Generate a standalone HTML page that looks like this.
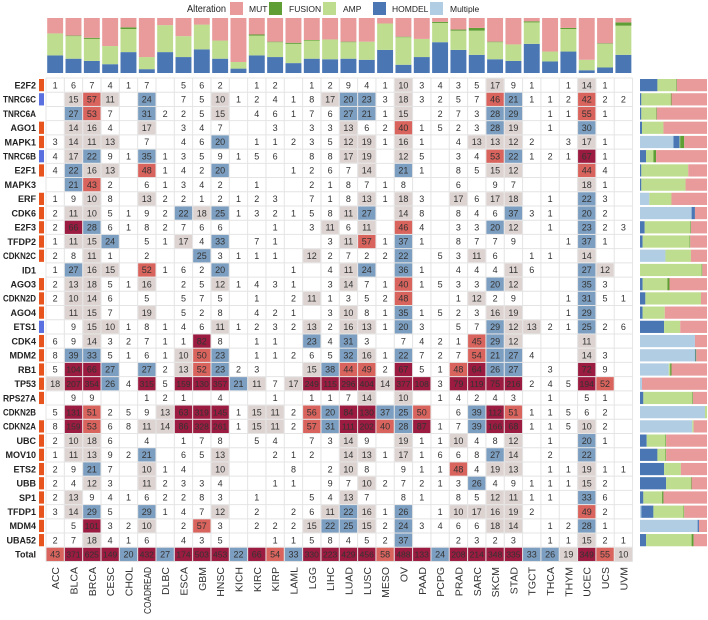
<!DOCTYPE html>
<html><head><meta charset="utf-8">
<style>
html,body{margin:0;padding:0;background:#fff;}
svg{display:block;font-family:"Liberation Sans",Arial,sans-serif;}
</style></head>
<body>
<svg id="chart" width="708" height="620" viewBox="0 0 708 620" xmlns="http://www.w3.org/2000/svg">
<g id="legend">
  <text x="187" y="12" font-size="10.5" fill="#222" textLength="39" lengthAdjust="spacingAndGlyphs">Alteration</text>
  <rect x="230" y="2" width="13" height="13" fill="#e99a9b"/>
  <text x="249" y="12" font-size="8.5" fill="#222">MUT</text>
  <rect x="269" y="2" width="13" height="13" fill="#5f9e35"/>
  <text x="289" y="12" font-size="8.5" fill="#222">FUSION</text>
  <rect x="323" y="2" width="13" height="13" fill="#bedd8e"/>
  <text x="343" y="12" font-size="8.5" fill="#222">AMP</text>
  <rect x="373" y="2" width="13" height="13" fill="#4a77b4"/>
  <text x="392" y="12" font-size="8.5" fill="#222">HOMDEL</text>
  <rect x="430" y="2" width="13" height="13" fill="#b0cde3"/>
  <text x="450" y="12" font-size="8.5" fill="#222">Multiple</text>
</g>
<g id="top"></g>
<g id="grid"></g>
<g id="cells"></g>
<g id="rows"></g>
<g id="cols"></g>
<g id="right"></g>
</svg>
<script>
const cancers = ["ACC","BLCA","BRCA","CESC","CHOL","COADREAD","DLBC","ESCA","GBM","HNSC","KICH","KIRC","KIRP","LAML","LGG","LIHC","LUAD","LUSC","MESO","OV","PAAD","PCPG","PRAD","SARC","SKCM","STAD","TGCT","THCA","THYM","UCEC","UCS","UVM"];
const genes = ["E2F2","TNRC6C","TNRC6A","AGO1","MAPK1","TNRC6B","E2F1","MAPK3","ERF","CDK6","E2F3","TFDP2","CDKN2C","ID1","AGO3","CDKN2D","AGO4","ETS1","CDK4","MDM2","RB1","TP53","RPS27A","CDKN2B","CDKN2A","UBC","MOV10","ETS2","UBB","SP1","TFDP1","MDM4","UBA52","Total"];
const geneMarker = ["o","b","","o","o","b","o","","o","o","o","o","o","","o","o","o","b","o","o","o","o","o","","o","o","o","o","o","o","o","o","o",""];
const _=0;
const counts = [
[1,6,7,4,1,7,_,5,6,2,_,1,2,_,1, 2,9,4,1,10,3,4,3,5,17,9,1,_,1,14,1,_],
[_,15,57,11,_,24,_,7,5,10,1,2,4,1,8, 17,20,23,3,18,3,2,5,7,46,21,1,1,2,42,2,2],
[_,27,53,7,_,31,2,2,5,15,_,4,6,1,7, 6,27,21,1,15,_,2,7,3,28,29,_,1,1,55,1,_],
[_,14,16,4,_,17,_,3,4,7,_,_,3,_,3, 3,13,6,2,40,1,5,2,3,28,19,_,1,_,30,_,_],
[3,14,11,13,_,7,_,4,6,20,_,1,1,2,3, 5,12,19,1,16,1,_,4,13,13,12,2,_,3,17,1,_],
[4,17,22,9,1,35,1,3,5,9,1,5,6,_,8, 8,17,19,_,12,5,_,3,4,53,22,1,2,1,67,1,_],
[4,22,16,13,_,48,1,4,2,20,_,_,_,1,2, 6,7,14,_,21,1,_,8,5,15,12,_,_,_,44,4,_],
[_,21,43,2,_,6,1,3,4,2,_,1,_,_,2, 1,8,7,1,8,_,_,6,_,9,7,_,_,_,18,1,_],
[1,9,10,8,_,13,2,2,1,2,1,2,3,_,7, 1,8,13,1,18,3,_,17,6,17,18,_,1,_,22,3,_],
[2,11,10,5,1,9,2,22,18,25,1,3,2,1,5, 8,11,27,_,14,8,_,8,4,6,37,3,1,_,20,2,_],
[2,66,28,6,1,8,2,7,6,6,_,_,1,_,3, 11,6,11,_,46,4,_,3,3,20,12,_,1,_,23,2,3],
[1,11,15,24,_,5,1,17,4,33,_,7,1,_,_, 3,11,57,1,37,1,_,8,7,7,9,_,_,1,37,1,_],
[2,8,11,1,_,2,_,_,25,3,1,1,1,_,12, 2,7,2,2,22,_,5,3,11,6,_,1,1,_,14,_,_],
[1,27,16,15,_,52,1,6,2,20,_,_,_,1,_, 4,11,24,_,36,1,_,4,4,4,11,6,_,_,27,12,_],
[2,13,18,5,1,16,_,2,5,12,1,4,3,1,_, 3,14,7,1,40,1,5,3,3,20,12,_,_,_,35,3,_],
[2,10,14,6,_,5,_,5,7,5,_,1,_,2,11, 1,3,5,2,48,_,_,1,12,2,9,_,_,1,31,5,1],
[_,11,15,7,_,19,_,5,2,8,_,4,2,1,_, 3,10,8,1,35,1,5,2,3,16,19,_,_,1,29,_,_],
[_,9,15,10,1,8,1,4,6,11,1,2,3,2,13, 2,16,13,1,20,3,_,5,7,29,12,13,2,1,25,2,6],
[6,9,14,3,2,7,1,1,82,8,_,1,1,_,23, 4,31,3,_,7,4,2,1,45,29,12,_,_,_,11,_,_],
[8,39,33,5,1,6,1,10,50,23,_,1,1,2,6, 5,32,16,1,22,7,2,7,54,21,27,4,_,_,14,3,_],
[5,104,66,27,_,27,2,13,52,23,2,3,_,_,15, 38,44,49,2,67,5,1,48,64,26,27,_,3,_,72,9,_],
[18,207,354,26,4,315,5,159,130,357,21,11,7,17,249, 115,296,404,14,377,108,3,79,119,75,216,2,4,5,194,52,_],
[_,9,9,_,_,1,2,1,_,4,_,_,1,_,1, 1,7,14,_,10,_,1,4,2,4,3,_,1,_,5,1,_],
[5,131,51,2,5,9,13,63,319,145,1,15,11,2,56, 20,84,130,37,25,50,_,6,39,112,51,1,1,5,6,2,_],
[8,159,53,6,8,11,14,86,328,261,1,15,11,2,57, 31,111,202,40,28,87,1,7,39,166,68,1,1,5,10,2,_],
[2,10,18,6,_,4,_,1,7,8,_,5,4,_,7, 3,14,9,_,19,1,1,10,4,8,12,_,1,_,20,1,_],
[1,11,13,9,2,21,_,6,5,13,_,_,2,1,2, _,14,13,1,17,1,6,6,8,27,14,_,2,_,22,_,_],
[2,9,21,7,_,10,1,4,_,10,_,_,_,8,_, 2,10,8,_,9,1,1,48,4,19,13,_,1,1,19,1,1],
[2,4,12,3,_,11,2,3,3,4,_,_,1,1,_, 9,7,10,2,7,2,1,3,26,4,9,1,1,1,15,2,_],
[2,13,9,4,1,6,2,2,8,3,_,1,_,_,5, 4,13,7,_,8,1,_,8,5,12,11,1,1,_,33,6,_],
[3,14,29,5,_,29,1,4,7,12,_,2,_,2,6, 11,22,16,1,26,_,1,10,17,16,19,2,_,_,49,2,_],
[_,5,101,3,2,10,_,2,57,3,_,2,2,2,15, 22,25,15,2,24,3,4,6,6,18,14,_,1,2,28,1,_],
[2,7,18,4,1,6,_,4,3,5,_,_,1,1,5, 8,4,5,2,37,_,_,2,3,2,3,_,1,1,15,2,1],
[43,371,625,149,20,432,27,174,503,453,22,66,54,33,330, 223,429,456,58,488,133,24,208,214,348,335,33,26,19,349,55,10]
];
const topHomdel = [.32,.26,.22,.16,.38,.07,.38,.29,.43,.26,.08,.32,.29,.18,.26,.25,.26,.24,.42,.15,.29,.56,.42,.33,.25,.22,.53,.21,.39,.05,.10,.33];
const topAmp    = [.40,.41,.40,.33,.42,.22,.49,.38,.45,.33,.12,.36,.27,.35,.33,.36,.30,.33,.48,.50,.33,.35,.35,.44,.31,.30,.39,.18,.41,.19,.43,.53];
const topFusion = [0,.01,.02,0,.03,0,0,0,0,0,0,.02,.01,.02,.01,0,.01,0,0,.01,0,.02,.02,.05,.01,0,.02,0,.02,0,.01,.06];
const rMultiple = [0,0,0,0,.50,0,0,0,.14,.77,0,0,.38,0,0,0,0,0,.82,.82,.43,.03,0,.97,.78,0,0,0,0,0,.02,.86,0];
const rHomdel   = [.26,.02,.02,.03,.09,.09,.02,.02,0,.05,.07,.04,0,0,.04,.08,.04,.36,0,.01,0,0,.05,0,0,.10,.26,.36,.39,.05,.18,.02,.09];
const rAmp      = [.28,.44,.22,.32,.01,.11,.70,.66,.33,0,.68,.70,.38,.92,.37,.83,.33,.24,0,0,.02,0,.73,.03,.02,.28,.12,.25,.37,.28,.45,0,.68];
const rFusion   = [.01,.01,.01,0,.06,.04,0,0,0,0,.01,.01,0,.01,.03,0,0,0,0,.01,.02,0,.01,0,0,.01,.01,0,.01,.02,.01,0,.03];

const C_MUT="#e99a9b",C_FUS="#5f9e35",C_AMP="#bedd8e",C_HOM="#4a77b4",C_MUL="#b0cde3";
const NS="http://www.w3.org/2000/svg";
function mk(tag,attrs,parent){const e=document.createElementNS(NS,tag);for(const k in attrs)e.setAttribute(k,attrs[k]);parent.appendChild(e);return e;}
const x0=46, colW=18.33, y0=78, rowH=14.22;
function xCol(i){return x0+i*colW;}
function yRow(j){return y0+j*rowH;}
function cellColor(v){if(v>=60)return"#9b1c40";if(v>=40)return"#d9635d";if(v>=20)return"#7c9ec0";if(v>=10)return"#ddd4d2";return null;}
const nR=genes.length,nC=cancers.length;
const gGrid=document.getElementById('grid');
for(let j=0;j<=nR;j++){const l=mk('line',{x1:x0,x2:xCol(nC),y1:yRow(j),y2:yRow(j),stroke:"#e4e4e4","stroke-width":1},gGrid);

}
for(let i=0;i<=nC;i++){const l=mk('line',{x1:xCol(i),x2:xCol(i),y1:y0,y2:yRow(nR),stroke:"#e4e4e4","stroke-width":1},gGrid);

}
const gCells=document.getElementById('cells');
for(let j=0;j<nR;j++){for(let i=0;i<nC;i++){
 const v=counts[j][i]; if(!v)continue;
 const c=cellColor(v);
 if(c){const r=mk('rect',{x:xCol(i)+0.5,y:yRow(j)+0.5,width:colW-1,height:rowH-1,fill:c},gCells);
  
  }
 const t=mk('text',{x:xCol(i)+colW/2,y:yRow(j)+rowH/2+3.2,"text-anchor":"middle","font-size":v>=100?"8.5":"9",fill:"#333"},gCells);
 t.textContent=v;
 
 
}}
const gRows=document.getElementById('rows');
genes.forEach((g,j)=>{
 const t=mk('text',{x:36,y:yRow(j)+rowH/2+3.3,"text-anchor":"end","font-size":"9","font-weight":"bold",fill:"#222"},gRows);
 t.textContent=g;
 
 
 const maxW=33;
 try{ if(t.getComputedTextLength()>maxW){t.setAttribute('textLength',maxW);t.setAttribute('lengthAdjust','spacingAndGlyphs');} }catch(e){}
 if(geneMarker[j]){const r=mk('rect',{x:39,y:yRow(j)+1,width:5,height:rowH-2,fill:geneMarker[j]=="o"?"#e8541e":"#5a6fe0"},gRows);
 
 }
});
const gCols=document.getElementById('cols');
cancers.forEach((c,i)=>{
 const cx=xCol(i)+colW/2+4, cy=567;
 const t=mk('text',{x:cx,y:cy,"text-anchor":"end","font-size":"10.5",fill:"#333",transform:`rotate(-90 ${cx} ${cy})`},gCols);
 t.textContent=c;
 
 
 try{ if(t.getComputedTextLength()>47){t.setAttribute('textLength',47);t.setAttribute('lengthAdjust','spacingAndGlyphs');} }catch(e){}
});
const gTop=document.getElementById('top');
const topY0=73, topH=55;
cancers.forEach((c,i)=>{
 const bx=xCol(i)+1.2,bw=colW-2.4;
 let y=topY0;
 const parts=[[topHomdel[i],C_HOM,'top-bar-homdel'],[topAmp[i],C_AMP,'top-bar-amp'],[topFusion[i],C_FUS,'top-bar-fusion']];
 let used=0;
 parts.forEach(p=>{const h=p[0]*topH; if(h<=0)return; y-=h; used+=p[0];
  const r=mk('rect',{x:bx,y:y,width:bw,height:h,fill:p[1]},gTop);
  
  });
 const hm=(1-used)*topH;
 const r=mk('rect',{x:bx,y:topY0-topH,width:bw,height:Math.max(0,hm),fill:C_MUT},gTop);
 
 
});
const gRight=document.getElementById('right');
const rx0=640, rW=67;
for(let j=0;j<nR-1;j++){
 let x=rx0;
 const parts=[[rMultiple[j],C_MUL,'right-bar-multiple'],[rHomdel[j],C_HOM,'right-bar-homdel'],[rAmp[j],C_AMP,'right-bar-amp'],[rFusion[j],C_FUS,'right-bar-fusion']];
 let used=0;
 parts.forEach(p=>{const w=p[0]*rW; if(w<=0)return;
  const r=mk('rect',{x:x,y:yRow(j)+1,width:w,height:rowH-2,fill:p[1]},gRight);
  
  
  x+=w; used+=p[0];});
 const r=mk('rect',{x:x,y:yRow(j)+1,width:Math.max(0,(1-used)*rW),height:rowH-2,fill:C_MUT},gRight);
 
 
}
</script>
</body></html>
